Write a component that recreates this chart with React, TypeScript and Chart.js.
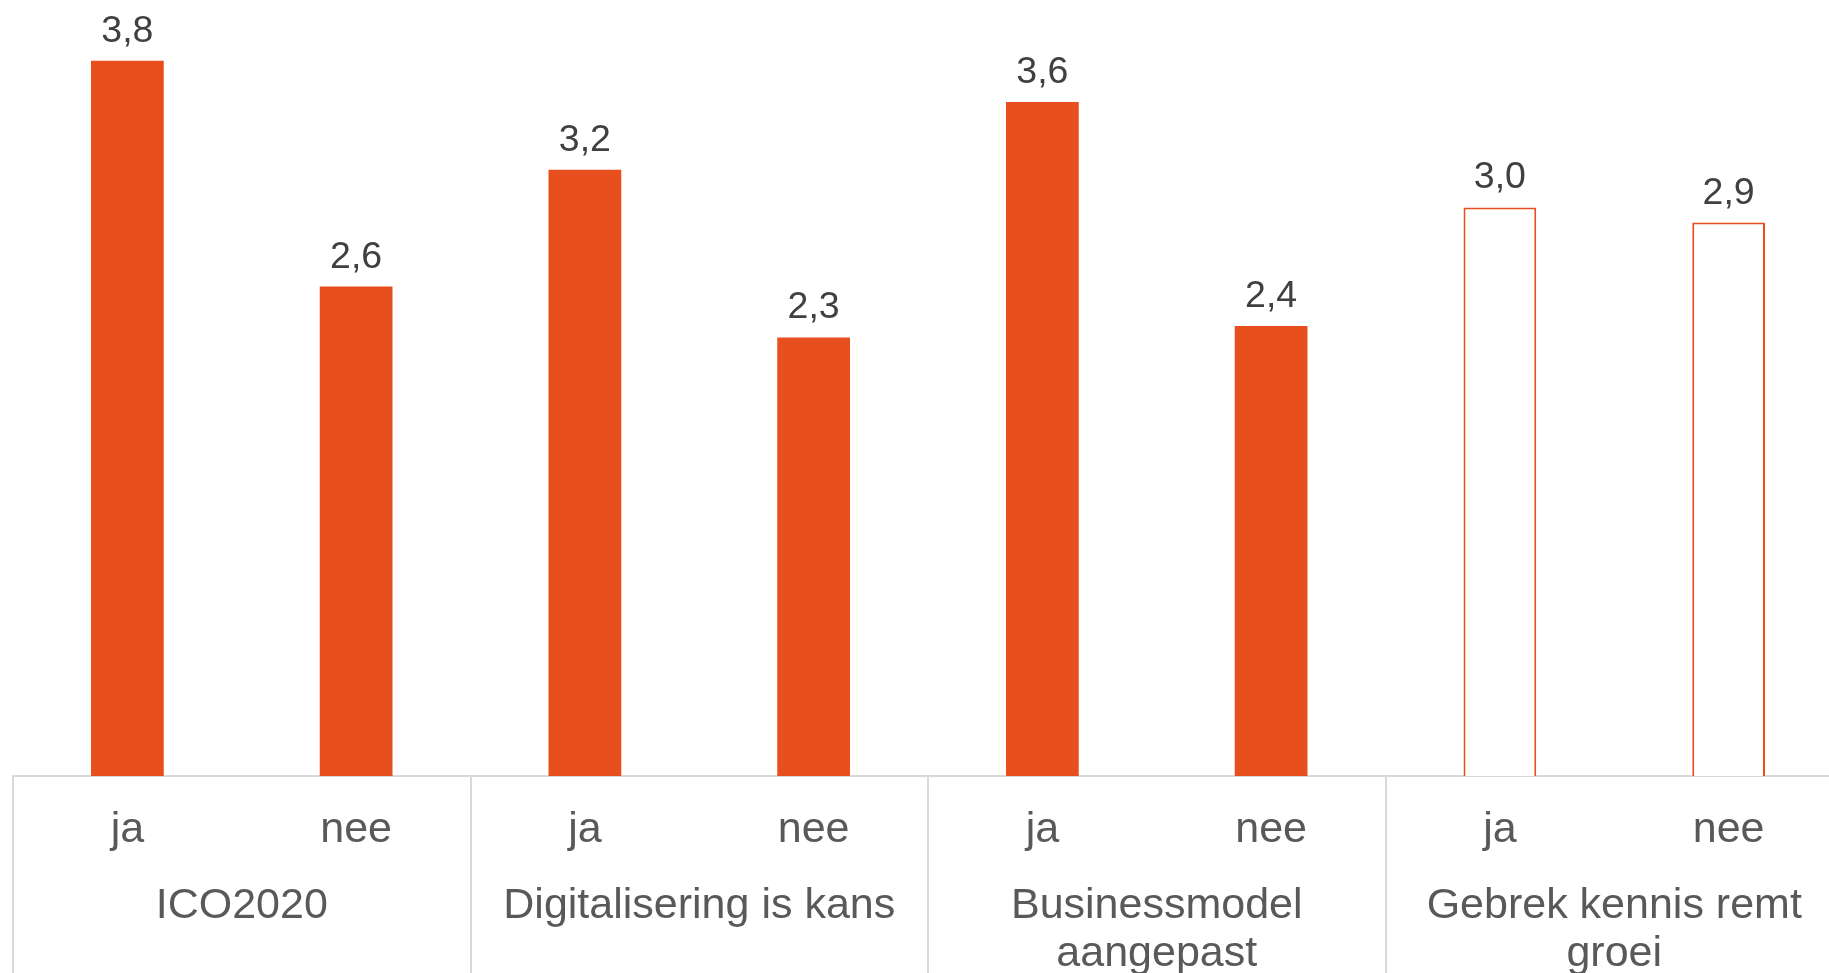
import React, { useEffect, useRef } from "react";
import { Chart, registerables } from "chart.js";

Chart.register(...registerables);

const categories = ["ja", "nee", "ja", "nee", "ja", "nee", "ja", "nee"];
const groups: string[][] = [
  ["ICO2020"],
  ["Digitalisering is kans"],
  ["Businessmodel", "aangepast"],
  ["Gebrek kennis remt", "groei"],
];
const values = [3.8, 2.6, 3.22, 2.33, 3.58, 2.39, 3.02, 2.94];
const outlined = [false, false, false, false, false, false, true, true];

const ORANGE = "#E84F1F";
const FONT = "'Liberation Sans', Arial, sans-serif";

const labelPlugin = {
  id: "customLabels",
  afterDraw(chart: any) {
    const ctx = chart.ctx;
    const xs = chart.scales.x;
    const area = chart.chartArea;
    const bottom = chart.height;
    const p = (i: number) => xs.getPixelForValue(i);
    const half = (p(1) - p(0)) / 2;
    ctx.save();
    // dividers
    ctx.strokeStyle = "#d9d9d9";
    ctx.lineWidth = 2;
    for (let g = 0; g <= groups.length; g++) {
      const x = Math.round(p(g * 2) - half);
      ctx.beginPath();
      ctx.moveTo(x, area.bottom);
      ctx.lineTo(x, bottom);
      ctx.stroke();
    }
    // category labels
    ctx.fillStyle = "#595959";
    ctx.font = `43px ${FONT}`;
    ctx.textAlign = "center";
    ctx.textBaseline = "alphabetic";
    categories.forEach((c, i) => {
      ctx.fillText(c, p(i), area.bottom + 66);
    });
    groups.forEach((lines, g) => {
      const cx = (p(g * 2) + p(g * 2 + 1)) / 2;
      lines.forEach((line, k) => {
        ctx.fillText(line, cx, area.bottom + 142 + k * 48);
      });
    });
    // value labels
    const meta = chart.getDatasetMeta(0);
    ctx.fillStyle = "#404040";
    ctx.font = `37.5px ${FONT}`;
    meta.data.forEach((bar: any, i: number) => {
      ctx.fillText(values[i].toFixed(1).replace(".", ","), bar.x, bar.y - 19);
    });
    ctx.restore();
  },
};

export default function App() {
  const ref = useRef<HTMLCanvasElement>(null);
  useEffect(() => {
    if (!ref.current) return;
    const chart = new Chart(ref.current, {
      type: "bar",
      data: {
        labels: categories,
        datasets: [
          {
            data: values,
            backgroundColor: outlined.map((o) => (o ? "#ffffff" : ORANGE)),
            borderColor: ORANGE,
            borderWidth: outlined.map((o) => (o ? 2 : 0)),
            categoryPercentage: 1,
            barPercentage: 0.318,
          },
        ],
      },
      options: {
        responsive: false,
        animation: false,
        devicePixelRatio: 1,
        layout: { padding: { top: 23, bottom: 197, left: 13, right: 0 } },
        plugins: { legend: { display: false }, tooltip: { enabled: false } },
        scales: {
          x: {
            display: true,
            grid: { display: false, drawTicks: false },
            ticks: { display: false },
            border: { display: true, color: "#d9d9d9", width: 2 },
          },
          y: { display: false, min: 0, max: 4 },
        },
      },
      plugins: [labelPlugin],
    });
    return () => chart.destroy();
  }, []);
  return (
    <div
      style={{
        position: "fixed",
        left: 0,
        top: 0,
        width: 1829,
        height: 973,
        overflow: "hidden",
        background: "#fff",
      }}
    >
      <canvas ref={ref} width={1843} height={973} style={{ width: 1843, height: 973, display: "block" }} />
    </div>
  );
}
